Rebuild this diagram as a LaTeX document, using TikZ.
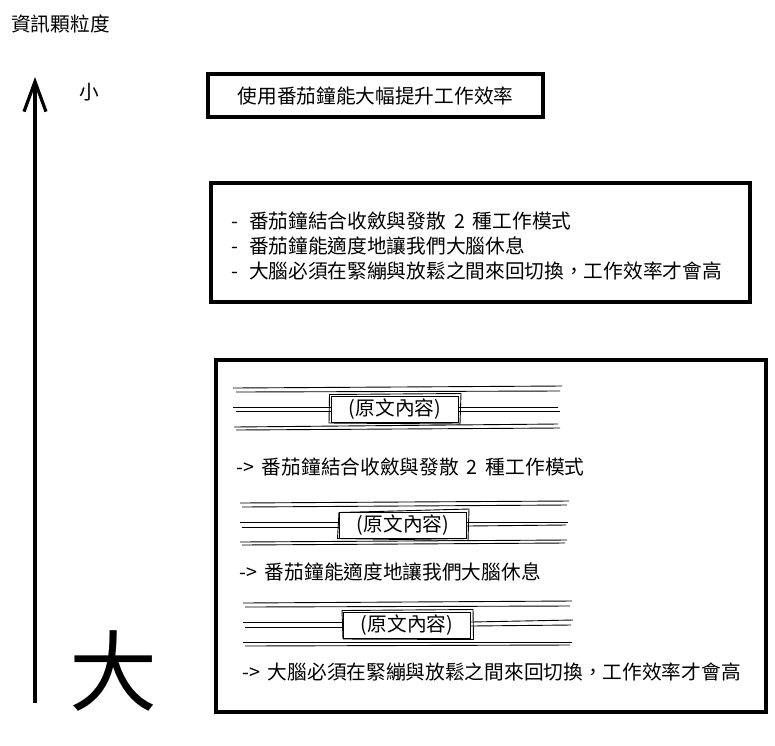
\documentclass[tikz,border=0pt]{standalone}
\usepackage{fontspec}
\setmainfont{Noto Sans CJK TC}
\usetikzlibrary{arrows.meta,positioning}

\begin{document}
\begin{tikzpicture}[x=1pt, y=-1pt, font=\fontsize{19.7}{24.6}\selectfont,
  frame/.style={draw,line width=3.2pt,inner sep=0pt},
  txt/.style={anchor=west,inner sep=0pt},
  srcbox/.style={draw,line width=1pt,inner sep=0pt,minimum height=26pt,minimum width=127pt},
  rough/.style={line width=0.9pt}]
  \useasboundingbox (0,0) rectangle (775,745);
  % axis
  \node[txt] (axis) at (11,24) {資訊顆粒度};
  \node (small) at (89,92) {小};
  \node[font=\fontsize{88}{88}\selectfont] (big) at (113,671) {大};
  \coordinate (axbot) at (35,703);
  \coordinate (axtop) at (35,77);
  \draw[line width=3.2pt, -{Straight Barb[length=30pt,width=22pt]}] (axbot) -- (axtop);
  % conclusion
  \node[frame, minimum width=335pt, minimum height=43pt] (concl) at (375.5,95.5) {使用番茄鐘能大幅提升工作效率};
  % summary
  \node[frame, minimum width=539pt, minimum height=119pt] (summ) at (480.5,242.5) {};
  \node[txt] (sum1) at (231,221) {-\hspace{11pt}番茄鐘結合收斂與發散\hspace{8pt}2\hspace{8pt}種工作模式};
  \node[txt] (sum2) at (231,246) {-\hspace{11pt}番茄鐘能適度地讓我們大腦休息};
  \node[txt] (sum3) at (231,271) {-\hspace{11pt}大腦必須在緊繃與放鬆之間來回切換，工作效率才會高};
  % details
  \node[frame, minimum width=550pt, minimum height=352pt] (detail) at (491,536) {};
  % group 1
  \node[srcbox] (src1) at (395,409.5) {(原文內容)};
  \draw[rough] ([shift={(-1.5pt,1.5pt)}]src1.north west) -- ([shift={(2pt,2.5pt)}]src1.north east) -- ([shift={(1pt,-1pt)}]src1.south east) -- ([shift={(-2pt,0pt)}]src1.south west) -- cycle;
  \draw[rough] (233,388) -- (562,386);
  \draw[rough] (236,392) -- (560,391);
  \draw[rough] (233,407) -- ([yshift=2.5pt]src1.west);
  \draw[rough] (236,411) -- ([yshift=-1.5pt]src1.west);
  \draw[rough] ([yshift=2.5pt]src1.east) -- (558,407);
  \draw[rough] ([yshift=-1.5pt]src1.east) -- (560,411);
  \draw[rough] (234,427) -- (558,424);
  \draw[rough] (236,430) -- (560,428);
  \node[txt] (det1) at (236,467) {->\hspace{8pt}番茄鐘結合收斂與發散\hspace{8pt}2\hspace{8pt}種工作模式};
  % group 2
  \node[srcbox] (src2) at (403,525) {(原文內容)};
  \draw[rough] ([shift={(0pt,-1pt)}]src2.north west) -- ([shift={(2pt,2.5pt)}]src2.north east) -- ([shift={(1pt,-2pt)}]src2.south east) -- ([shift={(-1.5pt,0pt)}]src2.south west) -- cycle;
  \draw[rough] (240,503) -- (569,501);
  \draw[rough] (242,507) -- (567,505);
  \draw[rough] (240,522) -- ([yshift=3pt]src2.west);
  \draw[rough] (242,527) -- ([yshift=-2pt]src2.west);
  \draw[rough] ([yshift=3pt]src2.east) -- (568,522);
  \draw[rough] ([yshift=-1pt]src2.east) -- (566,525);
  \draw[rough] (240,542) -- (567,540);
  \draw[rough] (242,545) -- (565,543);
  \node[txt] (det2) at (239,572) {->\hspace{8pt}番茄鐘能適度地讓我們大腦休息};
  % group 3
  \node[srcbox] (src3) at (407,625) {(原文內容)};
  \draw[rough] ([shift={(-1pt,1pt)}]src3.north west) -- ([shift={(2pt,2pt)}]src3.north east) -- ([shift={(2.5pt,-1pt)}]src3.south east) -- ([shift={(0pt,-0.5pt)}]src3.south west) -- cycle;
  \draw[rough] (243,603) -- (572,601);
  \draw[rough] (245,607) -- (570,606);
  \draw[rough] (243,622) -- ([yshift=3pt]src3.west);
  \draw[rough] (245,627) -- ([yshift=-2pt]src3.west);
  \draw[rough] ([yshift=3pt]src3.east) -- (573,620);
  \draw[rough] ([yshift=-1pt]src3.east) -- (571,625);
  \draw[rough] (243,642) -- (572,642);
  \draw[rough] (245,646) -- (570,645);
  \node[txt] (det3) at (242,672) {->\hspace{8pt}大腦必須在緊繃與放鬆之間來回切換，工作效率才會高};
\end{tikzpicture}
\end{document}
